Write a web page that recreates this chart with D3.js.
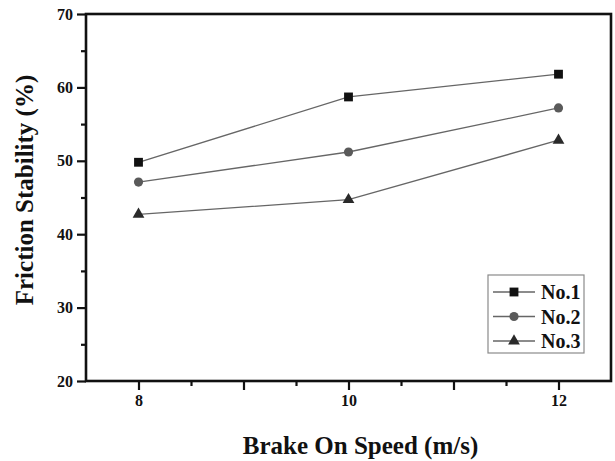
<!DOCTYPE html>
<html lang="en">
<head>
  <meta charset="UTF-8">
  <title>Friction Stability vs Brake On Speed</title>
  <style>
    body { margin: 0; background: #fff; }
    .chart text { font-family: "Liberation Serif", "Times New Roman", serif; font-weight: bold; fill: #111; }
  </style>
</head>
<body>
  <svg class="chart"></svg>
  <script src="https://cdn.jsdelivr.net/npm/d3@7"></script>
  <script>
    var speeds = [8, 10, 12];
    var no1 = [49.8, 58.7, 61.8];
    var no2 = [47.1, 51.2, 57.2];
    var no3 = [42.7, 44.7, 52.8];
    var seriesNames = ["No.1", "No.2", "No.3"];
    var xTicks = [8, 8.5, 9, 9.5, 10, 10.5, 11, 11.5, 12];
    var yTicks = [20, 25, 30, 35, 40, 45, 50, 55, 60, 65, 70];

    var w = 615, h = 461,
        plotL = 86, plotT = 14, plotR = 611, plotB = 381;

    var svg = d3.select(".chart").attr("width", w).attr("height", h);

    var x = d3.scaleLinear().domain([7.5, 12.5]).range([plotL, plotR]);
    var y = d3.scaleLinear().domain([20, 70]).range([plotB, plotT]);

    var styles = [
      { shape: d3.symbolSquare, size: 78, fill: "#111" },
      { shape: d3.symbolCircle, size: 66, fill: "#5a5a5a" },
      { shape: d3.symbolTriangle, size: 60, fill: "#2a2a2a" }
    ];
    var series = [no1, no2, no3].map((vals, i) => ({
      name: seriesNames[i],
      pts: vals.map((v, j) => ({ x: speeds[j], y: v })),
      st: styles[i]
    }));

    // axes
    var xAxis = d3.axisBottom(x).tickValues(xTicks)
      .tickFormat(d => (d % 2 === 0 ? d : ""));
    var gx = svg.append("g").attr("transform", `translate(0,${plotB})`).call(xAxis);
    gx.selectAll(".tick line").attr("y2", d => (d % 1 === 0 ? 9 : 5));
    gx.selectAll(".tick text").attr("y", 14).style("font-size", "16px");

    var yAxis = d3.axisLeft(y).tickValues(yTicks)
      .tickFormat(d => (d % 10 === 0 ? d : ""));
    var gy = svg.append("g").attr("transform", `translate(${plotL},0)`).call(yAxis);
    gy.selectAll(".tick line").attr("x2", d => (d % 10 === 0 ? -9 : -5));
    gy.selectAll(".tick text").attr("x", -13).style("font-size", "16px");

    [gx, gy].forEach(g => {
      g.select(".domain").remove();
      g.selectAll(".tick line").attr("stroke", "#111").attr("stroke-width", 2.2);
    });

    // frame
    svg.append("rect")
      .attr("x", plotL).attr("y", plotT)
      .attr("width", plotR - plotL).attr("height", plotB - plotT)
      .attr("fill", "none").attr("stroke", "#111").attr("stroke-width", 2.6);

    // lines and markers
    var line = d3.line().x(d => x(d.x)).y(d => y(d.y));
    series.forEach(s => {
      svg.append("path").datum(s.pts)
        .attr("d", line)
        .attr("fill", "none").attr("stroke", "#666").attr("stroke-width", 1.3);
      svg.selectAll(null).data(s.pts).enter().append("path")
        .attr("d", d3.symbol().type(s.st.shape).size(s.st.size))
        .attr("transform", d => `translate(${x(d.x)},${y(d.y)})`)
        .attr("fill", s.st.fill);
    });

    // legend
    var lg = svg.append("g").attr("transform", "translate(488,275)");
    lg.append("rect").attr("width", 96).attr("height", 78)
      .attr("fill", "#fff").attr("stroke", "#8a8a8a").attr("stroke-width", 1.2);
    series.forEach((s, i) => {
      var row = lg.append("g").attr("transform", `translate(0,${17 + i * 24.5})`);
      row.append("line").attr("x1", 5).attr("x2", 47)
        .attr("stroke", "#666").attr("stroke-width", 1.3);
      row.append("path")
        .attr("d", d3.symbol().type(s.st.shape).size(s.st.size))
        .attr("transform", "translate(26,0)")
        .attr("fill", s.st.fill);
      row.append("text").attr("x", 53).attr("y", 7)
        .style("font-size", "20px").text(s.name);
    });

    // axis titles
    svg.append("text")
      .attr("x", (plotL + plotR) / 2 + 12).attr("y", 454)
      .attr("text-anchor", "middle").style("font-size", "25px")
      .text("Brake On Speed (m/s)");
    svg.append("text")
      .attr("transform", "translate(33,190) rotate(-90)")
      .attr("text-anchor", "middle").style("font-size", "25px")
      .text("Friction Stability (%)");
  </script>
</body>
</html>
